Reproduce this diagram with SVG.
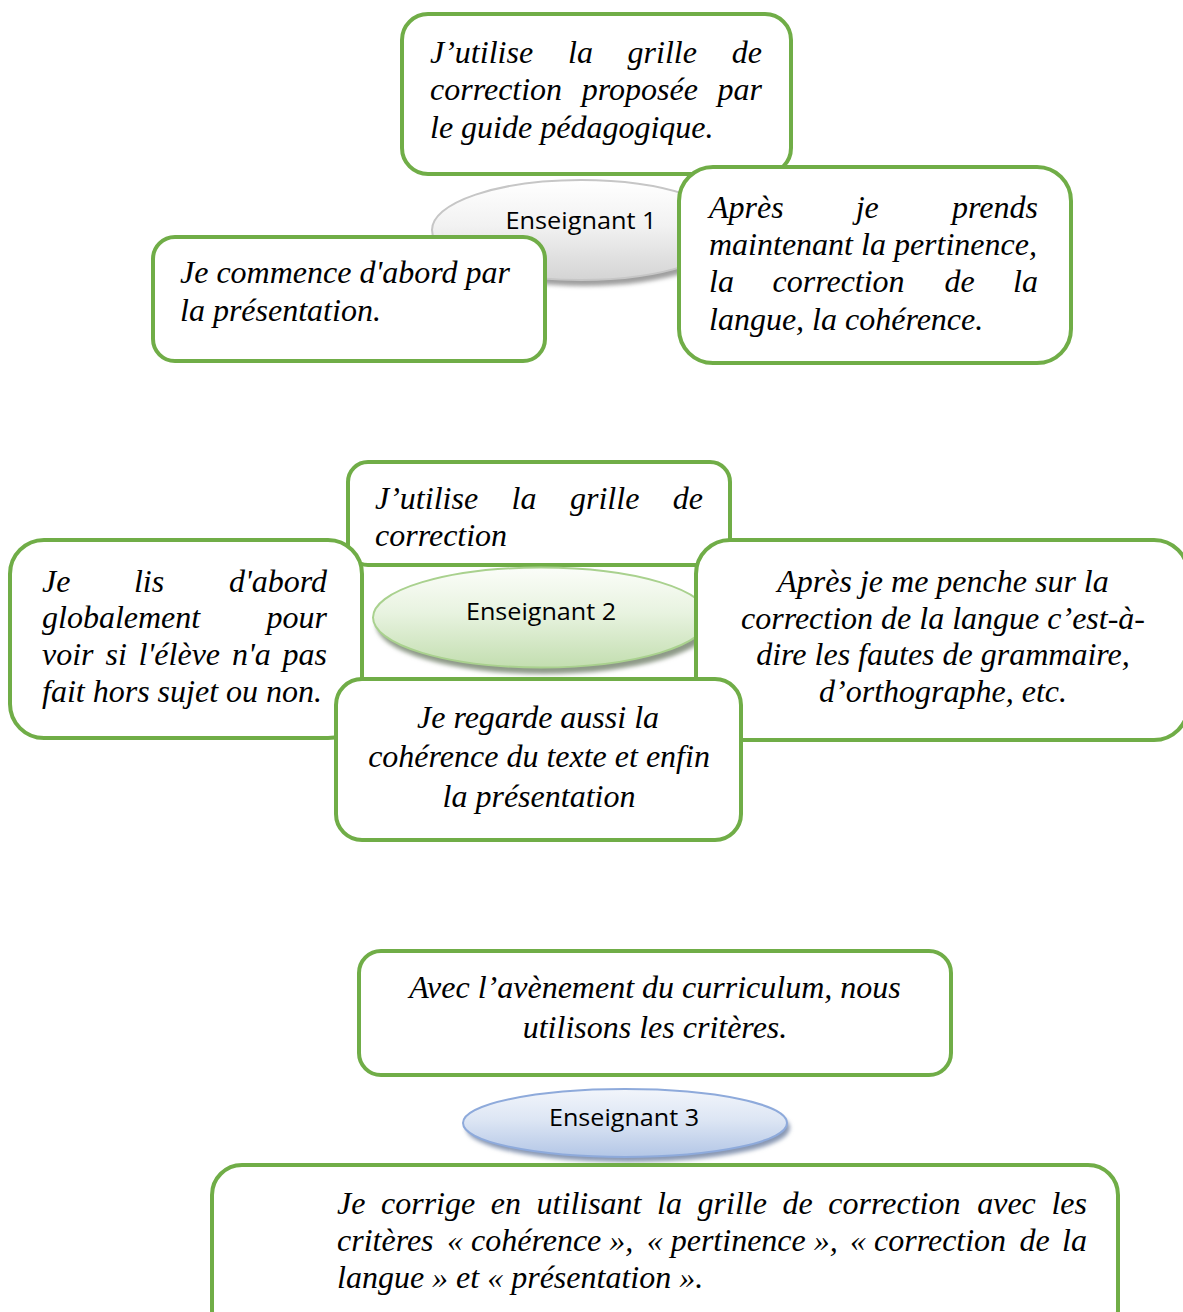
<svg xmlns="http://www.w3.org/2000/svg" width="1183" height="1312" viewBox="0 0 1183 1312">
<defs>
<linearGradient id="gGray" x1="0" y1="0" x2="0" y2="1">
<stop offset="0" stop-color="#ffffff"/><stop offset="0.45" stop-color="#f2f2f2"/><stop offset="1" stop-color="#d4d4d4"/>
</linearGradient>
<linearGradient id="gGreen" x1="0" y1="0" x2="0" y2="1">
<stop offset="0" stop-color="#fbfdf9"/><stop offset="0.45" stop-color="#e8f3e0"/><stop offset="1" stop-color="#c3deb0"/>
</linearGradient>
<linearGradient id="gBlue" x1="0" y1="0" x2="0" y2="1">
<stop offset="0" stop-color="#f2f5fb"/><stop offset="0.45" stop-color="#dde6f4"/><stop offset="1" stop-color="#b3c6e6"/>
</linearGradient>
<filter id="blur" x="-10%" y="-20%" width="120%" height="140%">
<feGaussianBlur stdDeviation="2"/>
</filter>
</defs>
<style>
.box{fill:#ffffff;stroke:#70ad47;stroke-width:4}
.t{font-family:"Liberation Serif","Times New Roman",serif;font-style:italic;font-size:32px;fill:#000000}
.c{text-anchor:middle}
.e{text-anchor:end}
.lbl{font-family:"Open Sans","Liberation Sans",sans-serif;font-size:24px;fill:#000000;text-anchor:middle}
.sh{filter:url(#blur)}
</style>
<rect width="1183" height="1312" fill="#ffffff"/>
<g id="connectors"/>

<!-- Section 1 -->
<g id="e1-top">
<rect class="box" x="402" y="14" width="389" height="160" rx="26"/>
<text class="t"><tspan x="430" y="63">J’utilise</tspan><tspan x="568" y="63">la</tspan><tspan x="627.6" y="63">grille</tspan><tspan class="e" x="762" y="63">de</tspan></text>
<text class="t"><tspan x="430" y="100">correction</tspan><tspan x="581.8" y="100">proposée</tspan><tspan class="e" x="762" y="100">par</tspan></text>
<text class="t" x="430" y="138">le guide pédagogique.</text>
</g>
<g id="enseignant1">
<ellipse class="sh" cx="584" cy="236" rx="149" ry="50" fill="#9f9f9f"/>
<ellipse cx="581" cy="230" rx="149" ry="50" fill="url(#gGray)" stroke="#c6c6c6" stroke-width="2"/>
<text class="lbl" x="581" y="229" textLength="151" lengthAdjust="spacingAndGlyphs">Enseignant 1</text>
</g>
<g id="e1-left">
<rect class="box" x="153" y="237" width="392" height="124" rx="22"/>
<text class="t" x="180" y="283">Je commence d'abord par</text>
<text class="t" x="180" y="321">la présentation.</text>
</g>
<g id="e1-right">
<rect class="box" x="679" y="167" width="392" height="196" rx="34"/>
<text class="t"><tspan x="709" y="218">Après</tspan><tspan x="855.7" y="218">je</tspan><tspan class="e" x="1038" y="218">prends</tspan></text>
<text class="t" x="709" y="255">maintenant la pertinence,</text>
<text class="t"><tspan x="709" y="292">la</tspan><tspan x="772.5" y="292">correction</tspan><tspan x="944.4" y="292">de</tspan><tspan class="e" x="1038" y="292">la</tspan></text>
<text class="t" x="709" y="330">langue, la cohérence.</text>
</g>

<!-- Section 2 -->
<g id="e2-top">
<rect class="box" x="348" y="462" width="382" height="103" rx="20"/>
<text class="t"><tspan x="375" y="509">J’utilise</tspan><tspan x="511.6" y="509">la</tspan><tspan x="570" y="509">grille</tspan><tspan class="e" x="703" y="509">de</tspan></text>
<text class="t" x="375" y="546">correction</text>
</g>
<g id="enseignant2">
<ellipse class="sh" cx="544" cy="624" rx="168" ry="50" fill="#8e9a88"/>
<ellipse cx="541" cy="617.5" rx="168" ry="50" fill="url(#gGreen)" stroke="#a9d18e" stroke-width="2"/>
<text class="lbl" x="541" y="620" textLength="150" lengthAdjust="spacingAndGlyphs">Enseignant 2</text>
</g>
<g id="e2-left">
<rect class="box" x="10" y="540" width="352" height="198" rx="34"/>
<text class="t"><tspan x="42" y="592">Je</tspan><tspan x="133.9" y="592">lis</tspan><tspan class="e" x="327" y="592">d'abord</tspan></text>
<text class="t"><tspan x="42" y="628">globalement</tspan><tspan class="e" x="327" y="628">pour</tspan></text>
<text class="t"><tspan x="42" y="665">voir</tspan><tspan x="105.5" y="665">si</tspan><tspan x="138.6" y="665">l'élève</tspan><tspan x="232" y="665">n'a</tspan><tspan class="e" x="327" y="665">pas</tspan></text>
<text class="t" x="42" y="702">fait hors sujet ou non.</text>
</g>
<g id="e2-right">
<rect class="box" x="696" y="540" width="492" height="200" rx="34"/>
<text class="t c" x="943" y="592">Après je me penche sur la</text>
<text class="t c" x="943" y="629">correction de la langue c’est-à-</text>
<text class="t c" x="943" y="665">dire les fautes de grammaire,</text>
<text class="t c" x="943" y="702">d’orthographe, etc.</text>
</g>
<g id="e2-bottom">
<rect class="box" x="336" y="679" width="405" height="161" rx="26"/>
<text class="t c" x="538" y="728">Je regarde aussi la</text>
<text class="t c" x="539" y="767">cohérence du texte et enfin</text>
<text class="t c" x="539" y="807">la présentation</text>
</g>

<!-- Section 3 -->
<g id="e3-top">
<rect class="box" x="359" y="951" width="592" height="124" rx="22"/>
<text class="t c" x="655" y="998">Avec l’avènement du curriculum, nous</text>
<text class="t c" x="655" y="1038">utilisons les critères.</text>
</g>
<g id="enseignant3">
<ellipse class="sh" cx="628" cy="1128" rx="162" ry="34" fill="#8897b2"/>
<ellipse cx="625" cy="1123" rx="162" ry="34" fill="url(#gBlue)" stroke="#8eaadb" stroke-width="2"/>
<text class="lbl" x="624" y="1126" textLength="150" lengthAdjust="spacingAndGlyphs">Enseignant 3</text>
</g>
<g id="e3-bottom">
<rect class="box" x="212" y="1165" width="906" height="175" rx="30"/>
<text class="t"><tspan x="337" y="1214">Je</tspan><tspan x="381" y="1214">corrige</tspan><tspan x="490.8" y="1214">en</tspan><tspan x="536.6" y="1214">utilisant</tspan><tspan x="657.1" y="1214">la</tspan><tspan x="697.6" y="1214">grille</tspan><tspan x="782.5" y="1214">de</tspan><tspan x="828.3" y="1214">correction</tspan><tspan x="977.2" y="1214">avec</tspan><tspan class="e" x="1087" y="1214">les</tspan></text>
<text class="t"><tspan x="337" y="1251">critères</tspan><tspan x="447" y="1251">«&#160;cohérence&#160;»,</tspan><tspan x="646.7" y="1251">«&#160;pertinence&#160;»,</tspan><tspan x="850" y="1251">«&#160;correction</tspan><tspan x="1019.5" y="1251">de</tspan><tspan class="e" x="1087" y="1251">la</tspan></text>
<text class="t" x="337" y="1288">langue&#160;» et «&#160;présentation&#160;».</text>
</g>
</svg>
